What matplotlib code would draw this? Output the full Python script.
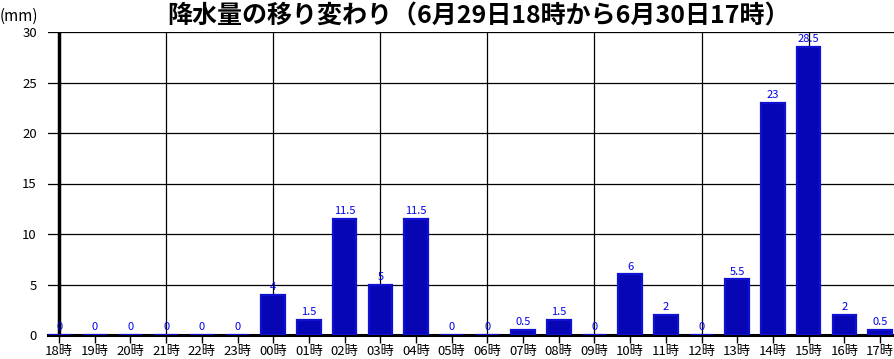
import matplotlib
matplotlib.use("Agg")
import matplotlib.pyplot as plt
import numpy as np

plt.rcParams['font.family'] = ['Noto Sans CJK JP', 'DejaVu Sans']

hours = ["18時", "19時", "20時", "21時", "22時", "23時", "00時", "01時", "02時", "03時",
         "04時", "05時", "06時", "07時", "08時", "09時", "10時", "11時", "12時", "13時",
         "14時", "15時", "16時", "17時"]
rain = [0, 0, 0, 0, 0, 0, 4, 1.5, 11.5, 5, 11.5, 0, 0, 0.5, 1.5, 0, 6, 2, 0, 5.5,
        23, 28.5, 2, 0.5]
value_labels = ["0", "0", "0", "0", "0", "0", "4", "1.5", "11.5", "5", "11.5", "0", "0",
                "0.5", "1.5", "0", "6", "2", "0", "5.5", "23", "28.5", "2", "0.5"]
yticks = [0, 5, 10, 15, 20, 25, 30]
title = "降水量の移り変わり（6月29日18時から6月30日17時）"

W, H = 895, 359
fig = plt.figure(figsize=(W / 100, H / 100), dpi=100)
ax = fig.add_axes([48 / W, (H - 335) / H, (W - 48) / W, (335 - 32) / H])

x = np.arange(len(hours))
bar_color = '#0606B4'
ax.bar(x, rain, width=0.66, color=bar_color, edgecolor='#1010D0', linewidth=1.6, zorder=5)

for xi, v, lab in zip(x, rain, value_labels):
    ax.annotate(lab, (xi, v), xytext=(0, 2), textcoords='offset points',
                ha='center', va='bottom', fontsize=8, color='#0000EE', zorder=6)

ax.set_xlim(-0.31, 23.42)
ax.set_ylim(0, 30)

for s in ['top', 'right', 'left']:
    ax.spines[s].set_visible(False)
ax.spines['bottom'].set_linewidth(2.2)
ax.spines['bottom'].set_zorder(4)

ax.set_yticks(yticks)
ax.set_yticklabels([str(t) for t in yticks], fontsize=9.5)
ax.tick_params(axis='y', length=0, pad=8)
ax.set_xticks(x)
ax.set_xticklabels(hours, fontsize=9.5)
ax.tick_params(axis='x', length=6, width=1, pad=1)

for t in yticks[1:]:
    ax.axhline(t, color='black', linewidth=0.9, zorder=1)
for v in range(3, 24, 3):
    ax.axvline(v, color='black', linewidth=0.9, zorder=1)
ax.axvline(0, color='black', linewidth=2.5, zorder=4)

fig.text(0.535, 0.955, title, ha='center', va='center', fontsize=18, fontweight='bold')
fig.text(0.0, 0.955, "(mm)", ha='left', va='center', fontsize=11)

fig.savefig("out.png", dpi=100)
